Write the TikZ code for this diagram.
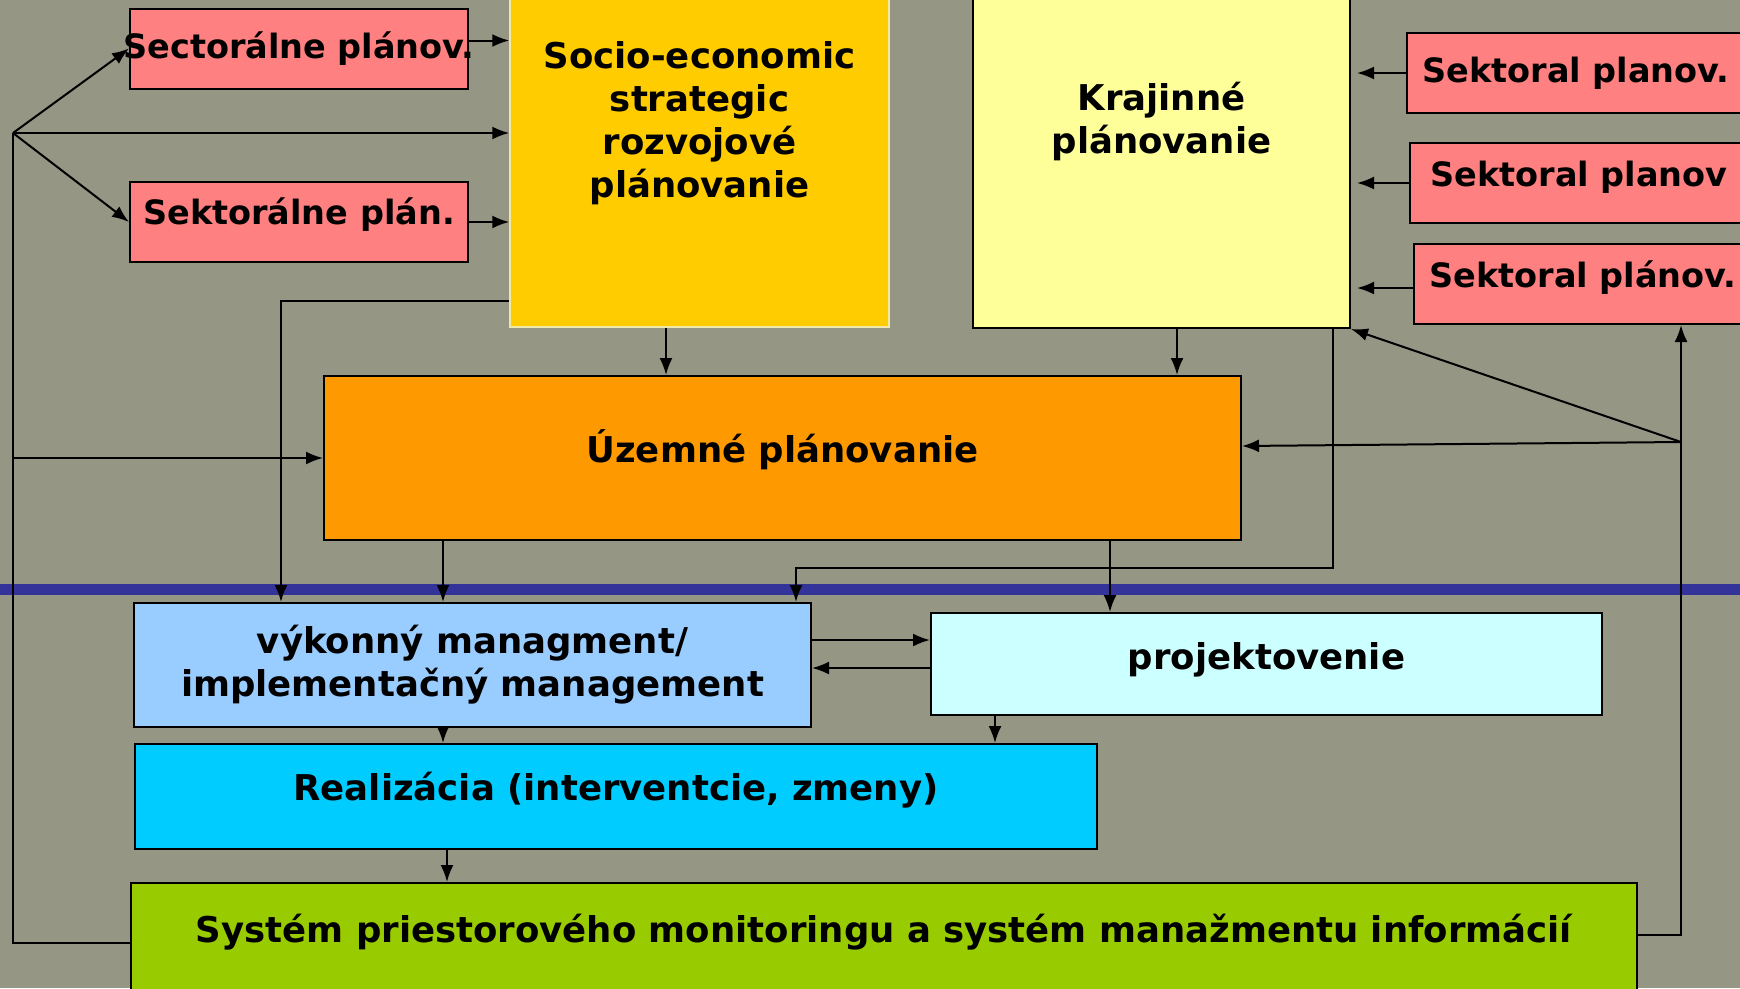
\documentclass[tikz,border=0pt]{standalone}
\usepackage{fontspec}
\setmainfont{DejaVu Sans}
\usepackage{tikz}
\usetikzlibrary{arrows.meta,calc}

\definecolor{bggray}{RGB}{150,150,133}
\definecolor{pinkc}{RGB}{255,128,128}
\definecolor{socioc}{RGB}{255,204,0}
\definecolor{socioline}{RGB}{240,232,170}
\definecolor{krajc}{RGB}{255,255,153}
\definecolor{uzemc}{RGB}{255,153,0}
\definecolor{vykc}{RGB}{153,204,255}
\definecolor{projc}{RGB}{204,255,255}
\definecolor{realc}{RGB}{0,204,255}
\definecolor{sysc}{RGB}{153,204,0}
\definecolor{linec}{RGB}{51,51,153}

\begin{document}
\begin{tikzpicture}[x=1pt,y=-1pt,
		box/.style={draw,line width=2pt,inner sep=0pt,align=center,font=\bfseries\fontsize{35.5}{43}\selectfont},
		sect/.style={box,fill=pinkc,minimum width=338pt,minimum height=80pt,font=\bfseries\fontsize{33.5}{40}\selectfont},
		lift/.style={text depth=#1},
		conn/.style={line width=2pt},
		>={Latex[length=17pt,width=13pt]}]
	\fill[bggray] (0,0) rectangle (1740,988);
	\clip (0,0) rectangle (1740,988);
	\draw[linec,line width=11pt] (0,589.5) -- (1740,589.5);
	% planning level
	\node[box,fill=socioc,draw=socioline,line width=1.5pt,minimum width=379pt,minimum height=408pt] (socio) at (699.5,123) {Socio-economic\\strategic\\rozvojové\\plánovanie};
	\node[box,fill=krajc,minimum width=377pt,minimum height=414pt] (kraj) at (1161.5,121) {Krajinné\\plánovanie};
	\node[sect] (sl1) at (299,48.5) {\makebox[320pt]{Sectorálne plánov.}};
	\node[sect,lift=21pt] (sl2) at (299,222) {Sektorálne plán.};
	\node[sect] (sr1) at (1576,73) {Sektoral planov.};
	\node[sect,lift=19pt] (sr2) at (1579,183) {Sektoral planov};
	\node[sect,lift=19pt] (sr3) at (1583,284) {Sektoral plánov.};
	\node[box,fill=uzemc,lift=24pt,minimum width=917pt,minimum height=164pt] (uzem) at (782.5,458) {Územné plánovanie};
	% implementation level
	\node[box,fill=vykc,minimum width=677pt,minimum height=124pt] (vyk) at (472.5,665) {výkonný managment/\\implementačný management};
	\node[box,fill=projc,lift=15pt,minimum width=671pt,minimum height=102pt] (proj) at (1266.5,664) {projektovenie};
	\node[box,fill=realc,lift=20pt,minimum width=962pt,minimum height=105pt] (real) at (616,796.5) {Realizácia (interventcie, zmeny)};
	\node[box,fill=sysc,lift=29pt,minimum width=1506pt,minimum height=120pt] (sys) at (884,943) {Systém priestorového monitoringu a systém manažmentu informácií};
	\coordinate (bl) at (13,133);
	\coordinate (br) at (1681,442);
	% feedback loops
	\draw[conn] (sys.west) -| (bl);
	\draw[conn,->] (bl) -- (sl1.west); \draw[conn,->] (bl) -- (bl -| socio.west); \draw[conn,->] (bl) -- (sl2.west);
	\draw[conn,->] (bl |- uzem.west) -- (uzem.west);
	\draw[conn] ([yshift=8pt]sys.east) -| (br);
	\draw[conn,->] (br) -- (br |- sr3.south); \draw[conn,->] (br) -- ([yshift=12pt]uzem.east); \draw[conn,->] (br) -- (kraj.south east);
	% sectoral inputs
	\draw[conn,->] ([yshift=8pt]sl1.east) -- ([yshift=8pt]sl1.east -| socio.west);
	\draw[conn,->] (sl2.east) -- (sl2.east -| socio.west);
	\draw[conn,->,shorten >=6pt] (sr1.west) -- (sr1.west -| kraj.east);
	\draw[conn,->,shorten >=6pt] (sr2.west) -- (sr2.west -| kraj.east);
	\draw[conn,->,shorten >=6pt] ([yshift=-4pt]sr3.west) -- ([yshift=-4pt]sr3.west -| kraj.east);
	% downward flow
	\draw[conn,->] ([xshift=-33.5pt]socio.south) -- ([xshift=-33.5pt]socio.south |- uzem.north);
	\draw[conn,->] ([xshift=15.5pt]kraj.south) -- ([xshift=15.5pt]kraj.south |- uzem.north);
	\draw[conn,->] ([yshift=27pt]socio.south west) -| ([xshift=-191.5pt]vyk.north);
	\draw[conn,->] ([xshift=-18pt]kraj.south east) -- ++(0,239) -| ([xshift=-16pt]vyk.north east);
	\draw[conn,->] ([xshift=-339.5pt]uzem.south) -- ([xshift=-29.5pt]vyk.north);
	\draw[conn,->] ([xshift=327.5pt]uzem.south) -- ([xshift=-156.5pt]proj.north);
	\draw[conn,->] ([yshift=25pt]vyk.east) -- ([yshift=25pt]vyk.east -| proj.west);
	\draw[conn,->] ([yshift=-4pt]proj.west) -- ([yshift=-4pt]proj.west -| vyk.east);
	\draw[conn,->] ([xshift=-29.5pt]vyk.south) -- ([xshift=-29.5pt]vyk.south |- real.north);
	\draw[conn,->] ([xshift=-271.5pt]proj.south) -- ([xshift=-271.5pt]proj.south |- real.north);
	\draw[conn,->] ([xshift=-169pt]real.south) -- ([xshift=-169pt]real.south |- sys.north);
\end{tikzpicture}
\end{document}
